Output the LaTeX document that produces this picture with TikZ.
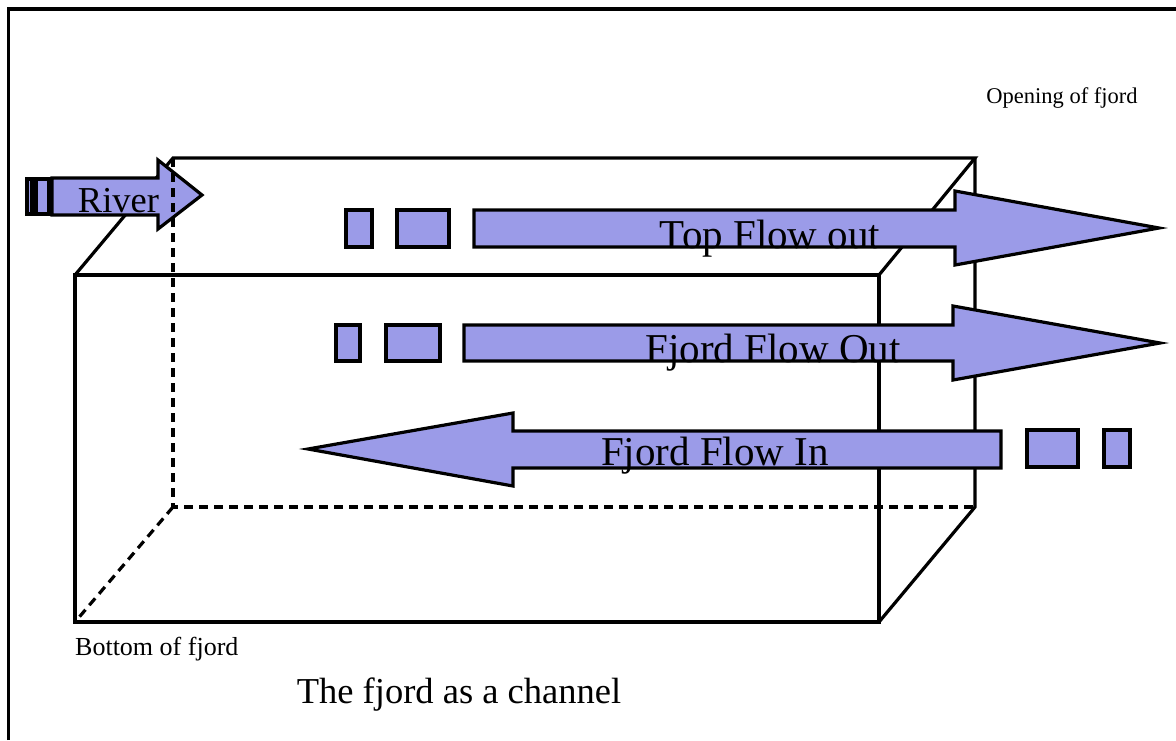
\documentclass[tikz,border=0pt]{standalone}
\usepackage{fontspec}
\setmainfont{Liberation Serif}
\definecolor{flowblue}{RGB}{155,155,232}
\begin{document}
\begin{tikzpicture}[x=1pt,y=-1pt,
  edge/.style={line width=3.2pt, line cap=butt},
  hidden/.style={edge, dash pattern=on 9pt off 6pt},
  flow/.style={draw=black, line width=3.2pt, fill=flowblue, line join=miter},
  big/.style={font=\fontsize{36.5}{40}\selectfont, inner sep=0pt},
  label/.style={font=\fontsize{41}{44}\selectfont, inner sep=0pt},
  small/.style={font=\fontsize{22.5}{26}\selectfont, inner sep=0pt}]
\useasboundingbox (0,0) rectangle (1176,740);
\fill[white] (0,0) rectangle (1176,740);

% page frame (left and top edges only)
\draw[line width=3.2pt] (8.5,740) -- (8.5,9) -- (1176,9);

% the channel as a box
\coordinate (F1) at (75,275);
\coordinate (F2) at (879,275);
\coordinate (F3) at (879,622);
\coordinate (F4) at (75,622);
\coordinate (B1) at (173,158);
\coordinate (B2) at (975,158);
\coordinate (B3) at (975,507);
\coordinate (B4) at (173,507);
\draw[edge] (F1) -- (F2) -- (F3) -- (F4) -- cycle;
\draw[edge] (F1) -- (B1) -- (B2) -- (F2);
\draw[edge] (B2) -- (B3) -- (F3);

% river inflow
\draw[flow] (27,179) rectangle (32,214);
\draw[flow] (36,179) rectangle (49,214);
\draw[flow] (52,178) -- (158,178) -- (158,160) -- (202,195) -- (158,229) -- (158,215) -- (52,215) -- cycle;
\node[big, anchor=base] (river) at (118.5,212) {River};

% hidden edges of the box
\draw[hidden] (B1) -- (B4) -- (B3);
\draw[hidden] (B4) -- (F4);

% top outflow
\draw[flow] (346,210) rectangle (372,247);
\draw[flow] (397,210) rectangle (449,247);
\draw[flow] (474,210) -- (955,210) -- (955,191) -- (1159,228) -- (955,265) -- (955,247) -- (474,247) -- cycle;
\node[label, anchor=base] (topout) at (770,248) {Top Flow out};

% fjord outflow
\draw[flow] (336,325) rectangle (360,361);
\draw[flow] (386,325) rectangle (440,361);
\draw[flow] (464,325) -- (953,325) -- (953,306) -- (1160,343) -- (953,380) -- (953,361) -- (464,361) -- cycle;
\node[label, anchor=base] (fjordout) at (773,362) {Fjord Flow Out};

% fjord inflow
\draw[flow] (1027,430) rectangle (1078,467);
\draw[flow] (1104,430) rectangle (1130,467);
\draw[flow] (308,449) -- (513,413) -- (513,431) -- (1001,431) -- (1001,468) -- (513,468) -- (513,486) -- cycle;
\node[label, anchor=base] (fjordin) at (715,465) {Fjord Flow In};

% labels
\node[small, anchor=base] (opening) at (1062,103) {Opening of fjord};
\node[font=\fontsize{26}{30}\selectfont, inner sep=0pt, anchor=base west] (bottom) at (75,655) {Bottom of fjord};
\node[big, anchor=base] (title) at (459,703) {The fjord as a channel};
\end{tikzpicture}
\end{document}
